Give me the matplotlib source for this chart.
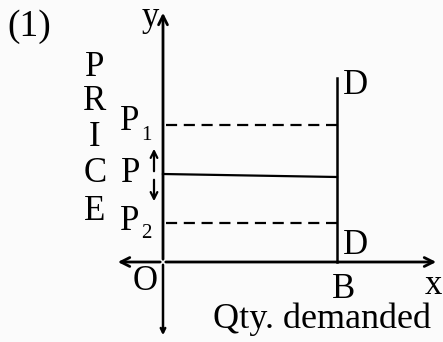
import matplotlib
matplotlib.use('Agg')
import matplotlib.pyplot as plt

plt.rcParams['font.family'] = ['Liberation Serif', 'DejaVu Serif']

# pixel layout of the sketch (y grows downward)
origin = (163, 262)
x_axis_end = 439
x_axis_start = 115
y_axis_top = 10
y_axis_bottom = 338
demand_x = 337
demand_top = 78

level_names = ['P1', 'P', 'P2']
level_y = [125, 175, 223]
level_style = ['--', '-', '--']

price_letters = ['P', 'R', 'I', 'C', 'E']
price_letter_y = [68, 102, 137, 173, 211]

fig = plt.figure(figsize=(4.43, 3.42), dpi=100)
fig.patch.set_facecolor('#fbfbfb')
ax = fig.add_axes([0, 0, 1, 1])
ax.set_xlim(0, 443)
ax.set_ylim(342, 0)
ax.axis('off')

fs = 25
sub = 15

arrow = dict(arrowstyle='->', lw=2.0, color='black', mutation_scale=16)
ox, oy = origin
# axes
ax.annotate('', xy=(x_axis_end, oy), xytext=(ox, oy), arrowprops=arrow)
ax.annotate('', xy=(x_axis_start, oy), xytext=(ox, oy), arrowprops=arrow)
ax.annotate('', xy=(ox, y_axis_top), xytext=(ox, oy), arrowprops=arrow)
ax.annotate('', xy=(ox, y_axis_bottom), xytext=(ox, oy),
            arrowprops=dict(arrowstyle='->', lw=1.8, color='black', mutation_scale=8))

# vertical demand curve
ax.plot([demand_x, demand_x], [demand_top, oy], color='black', lw=1.8)

# price levels
for name, yv, ls in zip(level_names, level_y, level_style):
    if ls == '--':
        ax.plot([ox + 3, demand_x], [yv, yv], color='black', lw=1.6, linestyle=(0, (5, 3)))
    else:
        ax.plot([ox, demand_x], [yv - 1, yv + 2], color='black', lw=1.6)

# double arrow beside P
ax.annotate('', xy=(154, 146), xytext=(154, 174),
            arrowprops=dict(arrowstyle='->', lw=1.6, color='black', mutation_scale=12))
ax.annotate('', xy=(154, 204), xytext=(154, 177),
            arrowprops=dict(arrowstyle='->', lw=1.6, color='black', mutation_scale=12))

# labels
ax.text(7, 27, '(1)', fontsize=27, ha='left', va='center')
ax.text(150, 17, 'y', fontsize=fs, ha='center', va='center')
for ch, yv in zip(price_letters, price_letter_y):
    ax.text(95, yv, ch, fontsize=fs, ha='center', va='center')
ax.text(130, level_y[0] - 3, 'P', fontsize=fs, ha='center', va='center')
ax.text(146, level_y[0] + 10, '1', fontsize=sub, ha='center', va='center')
ax.text(131, level_y[1] - 1, 'P', fontsize=fs, ha='center', va='center')
ax.text(130, level_y[2] - 1, 'P', fontsize=fs, ha='center', va='center')
ax.text(146, level_y[2] + 10, '2', fontsize=sub, ha='center', va='center')
ax.text(145, 282, 'O', fontsize=fs, ha='center', va='center')
ax.text(344, 289, 'B', fontsize=fs, ha='center', va='center')
ax.text(433, 286, 'x', fontsize=fs, ha='center', va='center')
ax.text(356, 86, 'D', fontsize=fs, ha='center', va='center')
ax.text(356, 245, 'D', fontsize=fs, ha='center', va='center')
ax.text(322, 319, 'Qty. demanded', fontsize=26, ha='center', va='center')

fig.savefig('out.png', dpi=100, facecolor=fig.get_facecolor())
